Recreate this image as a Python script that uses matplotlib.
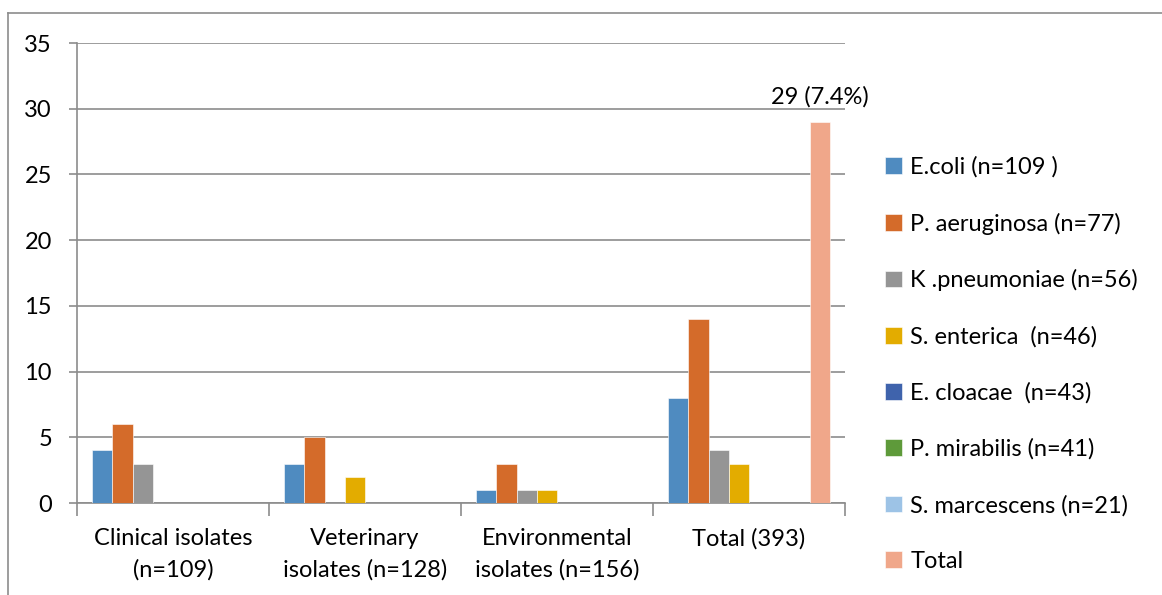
import numpy as np
import matplotlib.pyplot as plt

plt.rcParams['font.family'] = ['Lato', 'DejaVu Sans']

# Categories and series
groups = ["Clinical isolates\n(n=109)", "Veterinary\nisolates (n=128)",
          "Environmental\nisolates (n=156)", "Total (393)"]
series = ["E.coli (n=109 )", "P. aeruginosa (n=77)", "K .pneumoniae (n=56)",
          "S. enterica  (n=46)", "E. cloacae  (n=43)", "P. mirabilis (n=41)",
          "S. marcescens (n=21)", "Total"]
ecoli = [4, 3, 1, 8]
paeru = [6, 5, 3, 14]
kpneu = [3, 0, 1, 4]
sente = [0, 2, 1, 3]
eclo = [0, 0, 0, 0]
pmir = [0, 0, 0, 0]
smar = [0, 0, 0, 0]
total = [0, 0, 0, 29]
total_label = "29 (7.4%)"

colors = ["#4F8BC0", "#D46B2A", "#959595", "#E3AC00",
          "#3F63AC", "#5E9A3A", "#9DC3E6", "#F0A78A"]

values = [ecoli, paeru, kpneu, sente, eclo, pmir, smar, total]
fs = 17

fig = plt.figure(figsize=(11.62, 5.95), dpi=100)
# outer frame like the Excel chart area
fig.add_artist(plt.Line2D([8 / 1162, 8 / 1162], [0, 1 - 13 / 595],
                          color="#8c8c8c", lw=1.2))
fig.add_artist(plt.Line2D([8 / 1162, 1], [1 - 13 / 595, 1 - 13 / 595],
                          color="#8c8c8c", lw=1.2))

ax = fig.add_axes([77 / 1162, 1 - 503 / 595, 768 / 1162, 460 / 595])

n = len(series)
w = 1 / (n + 1.5)
x = np.arange(len(groups))
for i, (name, vals, c) in enumerate(zip(series, values, colors)):
    pos = x - 0.5 + 0.75 * w + (i + 0.5) * w
    ax.bar(pos, vals, width=w, color=c, label=name, zorder=3,
           edgecolor="white", linewidth=0.4)
    if name == "Total":
        ax.text(pos[-1], total[-1] + 1.1, total_label, ha="center",
                va="bottom", fontsize=fs)

ax.set_xlim(-0.5, len(groups) - 0.5)
ax.set_ylim(0, 35)
ax.set_yticks(range(0, 36, 5))
ax.yaxis.grid(True, color="#8c8c8c", lw=1.2, zorder=0)
ax.set_xticks(np.arange(len(groups) + 1) - 0.5, minor=False)
ax.set_xticklabels([])
ax.set_xticks(x, minor=True)
ax.set_xticklabels(groups, minor=True, fontsize=fs, linespacing=1.6)
ax.tick_params(axis="x", which="minor", length=0, pad=18)
ax.tick_params(axis="x", which="major", length=9.5, color="#8c8c8c", width=1.2)
ax.tick_params(axis="y", length=6, color="#8c8c8c", width=1.2, labelsize=fs, pad=12)
for side in ["top", "right"]:
    ax.spines[side].set_visible(False)
for side in ["left", "bottom"]:
    ax.spines[side].set_color("#8c8c8c")
    ax.spines[side].set_linewidth(1.2)

ax.legend(loc="center left", bbox_to_anchor=(1.025, 0.302), frameon=False,
          fontsize=fs, handlelength=0.7, handleheight=0.7,
          handletextpad=0.35, labelspacing=1.47)

fig.savefig("out.png", dpi=100)
